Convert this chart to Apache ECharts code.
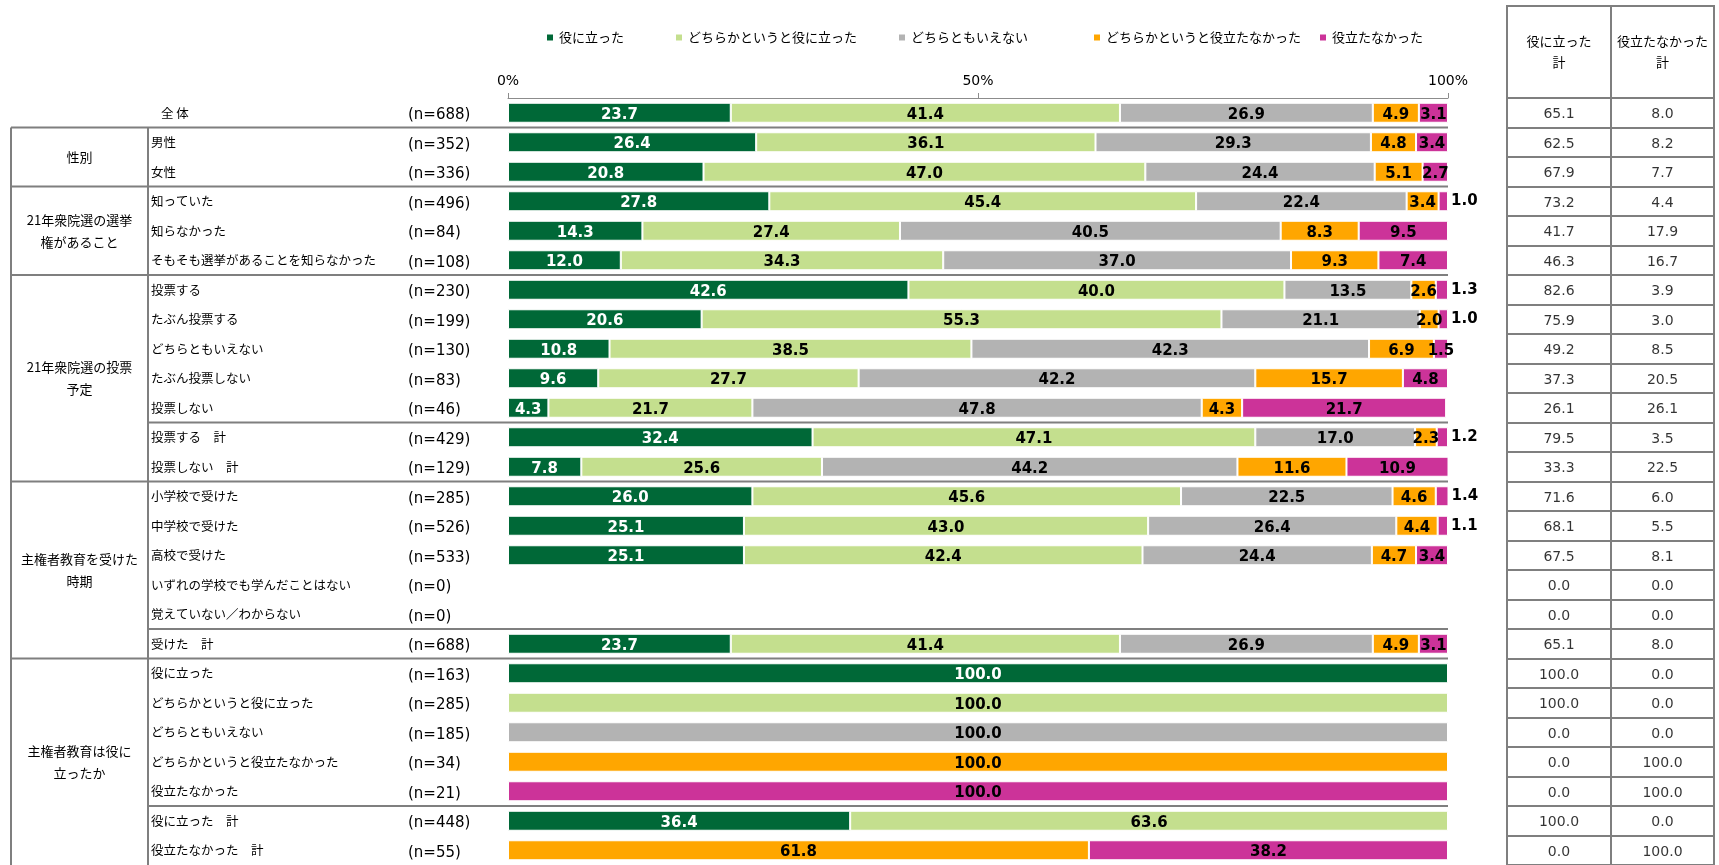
<!DOCTYPE html>
<html>
<head>
<meta charset="utf-8">
<script src="https://cdn.jsdelivr.net/npm/echarts@6/dist/echarts.min.js"></script>
<style>
  html, body { margin: 0; padding: 0; background: #fff; }
  #chart { width: 1719px; height: 865px; }
</style>
</head>
<body>
<div id="chart"></div>
<script>
// 行ラベル
var categories = ['全 体', '男性', '女性', '知っていた', '知らなかった', 'そもそも選挙があることを知らなかった',
  '投票する', 'たぶん投票する', 'どちらともいえない', 'たぶん投票しない', '投票しない', '投票する　計', '投票しない　計',
  '小学校で受けた', '中学校で受けた', '高校で受けた', 'いずれの学校でも学んだことはない', '覚えていない／わからない', '受けた　計',
  '役に立った', 'どちらかというと役に立った', 'どちらともいえない', 'どちらかというと役立たなかった', '役立たなかった',
  '役に立った　計', '役立たなかった　計'];
var nLabels = ['(n=688)', '(n=352)', '(n=336)', '(n=496)', '(n=84)', '(n=108)', '(n=230)', '(n=199)', '(n=130)', '(n=83)',
  '(n=46)', '(n=429)', '(n=129)', '(n=285)', '(n=526)', '(n=533)', '(n=0)', '(n=0)', '(n=688)', '(n=163)', '(n=285)',
  '(n=185)', '(n=34)', '(n=21)', '(n=448)', '(n=55)'];

var seriesNames = ['役に立った', 'どちらかというと役に立った', 'どちらともいえない', 'どちらかというと役立たなかった', '役立たなかった'];
var useful      = [23.7, 26.4, 20.8, 27.8, 14.3, 12.0, 42.6, 20.6, 10.8, 9.6, 4.3, 32.4, 7.8, 26.0, 25.1, 25.1, 0, 0, 23.7, 100, 0, 0, 0, 0, 36.4, 0];
var ratherUseful = [41.4, 36.1, 47.0, 45.4, 27.4, 34.3, 40.0, 55.3, 38.5, 27.7, 21.7, 47.1, 25.6, 45.6, 43.0, 42.4, 0, 0, 41.4, 0, 100, 0, 0, 0, 63.6, 0];
var neither     = [26.9, 29.3, 24.4, 22.4, 40.5, 37.0, 13.5, 21.1, 42.3, 42.2, 47.8, 17.0, 44.2, 22.5, 26.4, 24.4, 0, 0, 26.9, 0, 0, 100, 0, 0, 0, 0];
var ratherNot   = [4.9, 4.8, 5.1, 3.4, 8.3, 9.3, 2.6, 2.0, 6.9, 15.7, 4.3, 2.3, 11.6, 4.6, 4.4, 4.7, 0, 0, 4.9, 0, 0, 0, 100, 0, 0, 61.8];
var notUseful   = [3.1, 3.4, 2.7, 1.0, 9.5, 7.4, 1.3, 1.0, 1.5, 4.8, 21.7, 1.2, 10.9, 1.4, 1.1, 3.4, 0, 0, 3.1, 0, 0, 0, 0, 100, 0, 38.2];

// 右側の表
var usefulTotal    = [65.1, 62.5, 67.9, 73.2, 41.7, 46.3, 82.6, 75.9, 49.2, 37.3, 26.1, 79.5, 33.3, 71.6, 68.1, 67.5, 0.0, 0.0, 65.1, 100.0, 100.0, 0.0, 0.0, 0.0, 100.0, 0.0];
var notUsefulTotal = [8.0, 8.2, 7.7, 4.4, 17.9, 16.7, 3.9, 3.0, 8.5, 20.5, 26.1, 3.5, 22.5, 6.0, 5.5, 8.1, 0.0, 0.0, 8.0, 0.0, 0.0, 0.0, 100.0, 100.0, 0.0, 100.0];
var tableHeaders = ['役に立った\n計', '役立たなかった\n計'];
var xTicks = [0, 50, 100];

// 分類（開始行, 終了行）
var groups = [
  { name: '性別', from: 1, to: 2 },
  { name: '21年衆院選の選挙\n権があること', from: 3, to: 5 },
  { name: '21年衆院選の投票\n予定', from: 6, to: 12 },
  { name: '主権者教育を受けた\n時期', from: 13, to: 18 },
  { name: '主権者教育は役に\n立ったか', from: 19, to: 25 }
];
var subBreaks = [10, 17, 23]; // 分類内の区切り線（この行の下）

var colors = ['#006837', '#c4df8e', '#b3b3b3', '#ffa600', '#cc3399'];
var legendLeft = [545, 674, 897, 1092, 1318];

var JP = '"Noto Sans CJK JP", sans-serif';
var NUM = '"DejaVu Sans", sans-serif';
var GRID_TOP = 98, GRID_H = 770;
var BAR_L = 508, BAR_R = 1448;
var BOX_L = 11, BOX_C = 148;
var LINE = '#7f7f7f';

var chart = echarts.init(document.getElementById('chart'));

var allSeries = [useful, ratherUseful, neither, ratherNot, notUseful];
var barSeries = allSeries.map(function (arr, s) {
  return {
    name: seriesNames[s],
    type: 'bar',
    stack: 'total',
    barWidth: 20,
    xAxisIndex: 0,
    yAxisIndex: 0,
    itemStyle: { color: colors[s], borderColor: '#fff', borderWidth: 1 },
    label: {
      show: true,
      position: 'inside',
      offset: [0, 2],
      fontFamily: NUM,
      fontWeight: 'bold',
      fontSize: 15,
      color: s === 0 ? '#fff' : '#000',
      formatter: function (p) { return p.value.toFixed(1); }
    },
    data: arr.map(function (v) {
      if (!v) return null;
      if (s === 4 && v < 1.5) {
        return { value: v, label: { position: 'right', distance: 3, offset: [0, 0] } };
      }
      return v;
    })
  };
});

function tableSeries(arr, idx) {
  return {
    type: 'scatter',
    xAxisIndex: idx,
    yAxisIndex: idx + 1,
    symbolSize: 1,
    itemStyle: { color: 'transparent' },
    silent: true,
    label: {
      show: true,
      position: 'inside',
      offset: [0, 2],
      fontFamily: NUM,
      fontSize: 14,
      color: '#000',
      formatter: function (p) { return p.value[2].toFixed(1); }
    },
    data: arr.map(function (v, i) { return [0, i, v]; })
  };
}

var legends = seriesNames.map(function (n, i) {
  return {
    data: [n],
    left: legendLeft[i],
    top: 31,
    padding: 0,
    icon: 'rect',
    itemWidth: 8,
    itemHeight: 8,
    selectedMode: false,
    textStyle: { fontFamily: JP, fontSize: 13, color: '#000' }
  };
});

var catAxisBase = {
  type: 'category',
  inverse: true,
  axisLine: { show: false },
  axisTick: { show: false }
};

chart.setOption({
  animation: false,
  backgroundColor: '#fff',
  legend: legends,
  grid: [
    { left: BAR_L, width: BAR_R - BAR_L, top: GRID_TOP, height: GRID_H },
    { left: 1507, width: 104, top: GRID_TOP, height: GRID_H, show: true, borderColor: LINE, borderWidth: 2 },
    { left: 1611, width: 103, top: GRID_TOP, height: GRID_H, show: true, borderColor: LINE, borderWidth: 2 }
  ],
  xAxis: [
    {
      gridIndex: 0, type: 'value', position: 'top', min: xTicks[0], max: xTicks[2], interval: xTicks[1],
      axisLine: { show: true, lineStyle: { color: '#8c8c8c', width: 1 } },
      axisTick: { show: true, length: 5, lineStyle: { color: '#8c8c8c' } },
      splitLine: { show: false },
      axisLabel: { formatter: '{value}%', fontFamily: NUM, fontSize: 14, color: '#000', margin: 10 }
    },
    { gridIndex: 1, type: 'value', min: -1, max: 1, show: false },
    { gridIndex: 2, type: 'value', min: -1, max: 1, show: false }
  ],
  yAxis: [
    Object.assign({}, catAxisBase, {
      gridIndex: 0, data: categories, position: 'left',
      axisLabel: {
        align: 'left', margin: BAR_L - 151, fontFamily: JP, fontSize: 12.5, color: '#000', interval: 0,
        formatter: function (v, i) { return i === 0 ? '{ind|' + v + '}' : v; },
        rich: { ind: { padding: [0, 0, 0, 10], fontFamily: JP, fontSize: 12.5, color: '#000' } }
      }
    }),
    Object.assign({}, catAxisBase, {
      gridIndex: 0, data: nLabels, position: 'left', offset: 0,
      axisLabel: {
        align: 'left', margin: BAR_L - 408, interval: 0,
        formatter: function (v) { return '{n|' + v + '}'; },
        rich: { n: { fontFamily: NUM, fontSize: 15, color: '#000', padding: [5, 0, 0, 0] } }
      }
    }),
    Object.assign({}, catAxisBase, {
      gridIndex: 1, data: categories, axisLabel: { show: false },
      splitLine: { show: true, interval: 0, lineStyle: { color: LINE, width: 2 } }
    }),
    Object.assign({}, catAxisBase, {
      gridIndex: 2, data: categories, axisLabel: { show: false },
      splitLine: { show: true, interval: 0, lineStyle: { color: LINE, width: 2 } }
    })
  ],
  series: barSeries.concat([tableSeries(usefulTotal, 1), tableSeries(notUsefulTotal, 2)])
});

// 分類の枠と見出し（軸の座標から位置を求める）
function rowY(i) { return chart.convertToPixel({ yAxisIndex: 0 }, i); }
function boundaryBelow(i) { return (rowY(i) + rowY(i + 1)) / 2; }
var H = chart.getHeight();
var graphics = [];
function hline(x1, x2, y) {
  graphics.push({ type: 'line', shape: { x1: x1, y1: y, x2: x2, y2: y }, style: { stroke: LINE, lineWidth: 2 }, silent: true });
}
var topY = boundaryBelow(0);
hline(BOX_L, BAR_R, topY);
groups.forEach(function (g) {
  if (g.to < categories.length - 1) hline(BOX_L, BAR_R, boundaryBelow(g.to));
  graphics.push({
    type: 'text', x: (BOX_L + BOX_C) / 2, y: (rowY(g.from) + rowY(g.to)) / 2,
    style: { text: g.name, fontFamily: JP, fontSize: 13, fill: '#000', align: 'center', verticalAlign: 'middle', lineHeight: 22 },
    silent: true
  });
});
subBreaks.forEach(function (r) { hline(BOX_C, BAR_R, boundaryBelow(r)); });
graphics.push({ type: 'line', shape: { x1: BOX_L, y1: topY, x2: BOX_L, y2: H }, style: { stroke: LINE, lineWidth: 2 }, silent: true });
graphics.push({ type: 'line', shape: { x1: BOX_C, y1: topY, x2: BOX_C, y2: H }, style: { stroke: LINE, lineWidth: 2 }, silent: true });

// 表の見出し
var colEdges = [1507, 1611, 1714];
graphics.push({ type: 'rect', shape: { x: colEdges[0], y: 6, width: colEdges[2] - colEdges[0], height: GRID_TOP - 6 }, style: { fill: 'none', stroke: LINE, lineWidth: 2 }, silent: true });
graphics.push({ type: 'line', shape: { x1: colEdges[1], y1: 6, x2: colEdges[1], y2: GRID_TOP }, style: { stroke: LINE, lineWidth: 2 }, silent: true });
tableHeaders.forEach(function (t, i) {
  graphics.push({
    type: 'text', x: (colEdges[i] + colEdges[i + 1]) / 2, y: 52,
    style: { text: t, fontFamily: JP, fontSize: 13, fill: '#000', align: 'center', verticalAlign: 'middle', lineHeight: 21 },
    silent: true
  });
});
chart.setOption({ graphic: graphics });
</script>
</body>
</html>
